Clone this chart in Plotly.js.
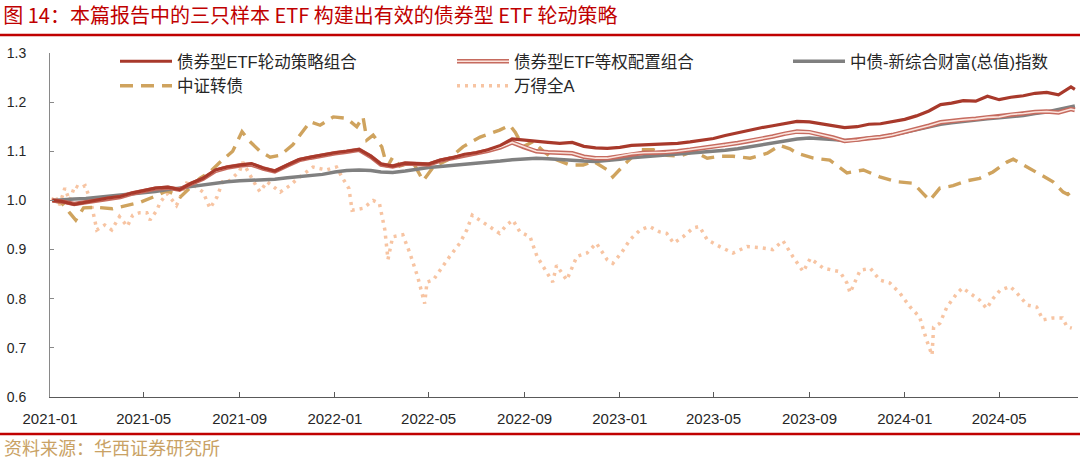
<!DOCTYPE html>
<html>
<head>
<meta charset="utf-8">
<script src="https://cdn.plot.ly/plotly-3.0.1.min.js"></script>
<style>
html,body{margin:0;padding:0;background:#fff;}
#chart{width:1080px;height:466px;}
</style>
</head>
<body>
<div id="chart"></div>
<script>
// ---------- data ----------
const seriesNames = ["债券型ETF轮动策略组合", "债券型ETF等权配置组合", "中债-新综合财富(总值)指数", "中证转债", "万得全A"];

const gridDates = [
  "2021-01-04","2021-01-16","2021-02-01","2021-02-16","2021-03-01","2021-03-16","2021-04-01","2021-04-16","2021-05-01","2021-05-16","2021-06-01","2021-06-16",
  "2021-07-01","2021-07-16","2021-08-01","2021-08-16","2021-09-01","2021-09-16","2021-10-01","2021-10-16","2021-11-01","2021-11-16","2021-12-01","2021-12-16",
  "2022-01-01","2022-01-16","2022-02-01","2022-02-16","2022-03-01","2022-03-16","2022-04-01","2022-04-16","2022-05-01","2022-05-16","2022-06-01","2022-06-16",
  "2022-07-01","2022-07-16","2022-08-01","2022-08-16","2022-09-01","2022-09-16","2022-10-01","2022-10-16","2022-11-01","2022-11-16","2022-12-01","2022-12-16",
  "2023-01-01","2023-01-16","2023-02-01","2023-02-16","2023-03-01","2023-03-16","2023-04-01","2023-04-16","2023-05-01","2023-05-16","2023-06-01","2023-06-16",
  "2023-07-01","2023-07-16","2023-08-01","2023-08-16","2023-09-01","2023-09-16","2023-10-01","2023-10-16","2023-11-01","2023-11-16","2023-12-01","2023-12-16",
  "2024-01-01","2024-01-16","2024-02-01","2024-02-16","2024-03-01","2024-03-16","2024-04-01","2024-04-16","2024-05-01","2024-05-16","2024-06-01","2024-06-16",
  "2024-07-01","2024-07-16","2024-08-01","2024-08-06"
];

const rotationVals = [
  1.000,0.998,0.992,0.997,1.000,1.005,1.008,1.015,1.020,1.025,1.027,1.022,
  1.035,1.045,1.062,1.068,1.072,1.075,1.066,1.060,1.072,1.083,1.088,1.093,
  1.097,1.100,1.104,1.090,1.074,1.070,1.076,1.075,1.074,1.082,1.087,1.094,
  1.097,1.103,1.112,1.125,1.122,1.120,1.118,1.116,1.118,1.110,1.107,1.106,
  1.108,1.112,1.113,1.114,1.114,1.116,1.119,1.122,1.126,1.132,1.138,1.143,
  1.148,1.152,1.157,1.161,1.160,1.156,1.153,1.148,1.150,1.155,1.156,1.160,
  1.165,1.172,1.182,1.195,1.198,1.203,1.202,1.212,1.205,1.210,1.213,1.218,
  1.220,1.215,1.231,1.226
];

const equalVals = [
  1.000,0.998,0.993,0.997,0.999,1.004,1.007,1.014,1.019,1.024,1.026,1.022,
  1.034,1.044,1.060,1.067,1.071,1.073,1.065,1.059,1.071,1.082,1.087,1.092,
  1.096,1.099,1.103,1.089,1.073,1.069,1.075,1.074,1.073,1.081,1.086,1.093,
  1.096,1.101,1.108,1.118,1.108,1.100,1.098,1.097,1.096,1.089,1.086,1.086,
  1.090,1.095,1.097,1.097,1.098,1.100,1.103,1.106,1.109,1.113,1.117,1.121,
  1.125,1.130,1.136,1.140,1.139,1.134,1.128,1.121,1.123,1.127,1.129,1.133,
  1.139,1.145,1.152,1.159,1.162,1.164,1.166,1.169,1.170,1.175,1.177,1.180,
  1.181,1.179,1.186,1.184
];

const bondIndexVals = [
  1.000,1.002,1.003,1.004,1.006,1.008,1.010,1.012,1.015,1.018,1.022,1.025,
  1.028,1.031,1.036,1.038,1.040,1.041,1.042,1.043,1.046,1.048,1.050,1.053,
  1.058,1.061,1.062,1.061,1.058,1.057,1.060,1.064,1.067,1.069,1.071,1.073,
  1.075,1.077,1.080,1.083,1.085,1.086,1.085,1.083,1.082,1.080,1.079,1.081,
  1.084,1.087,1.089,1.090,1.091,1.093,1.095,1.097,1.099,1.102,1.105,1.109,
  1.112,1.116,1.120,1.125,1.127,1.126,1.124,1.122,1.123,1.127,1.129,1.133,
  1.139,1.144,1.150,1.155,1.158,1.161,1.164,1.166,1.168,1.170,1.173,1.177,
  1.180,1.185,1.191,1.192
];

const cbDates = [
  "2021-01-04","2021-01-16","2021-01-26","2021-02-03","2021-02-13","2021-03-02","2021-03-22","2021-04-10","2021-04-26","2021-05-18",
  "2021-05-31","2021-06-17","2021-06-29","2021-07-12","2021-07-25","2021-08-07","2021-08-23","2021-09-04","2021-09-14","2021-09-27",
  "2021-10-10","2021-10-23","2021-11-08","2021-11-30","2021-12-13","2021-12-30","2022-01-16","2022-01-29","2022-02-06","2022-02-11",
  "2022-02-19","2022-03-02","2022-03-09","2022-03-16","2022-03-25","2022-04-11","2022-04-24","2022-05-07","2022-05-25","2022-06-14",
  "2022-07-06","2022-07-31","2022-08-13","2022-08-20","2022-08-30","2022-09-12","2022-09-25","2022-10-07","2022-10-29","2022-11-15",
  "2022-11-28","2022-12-16","2022-12-23","2023-01-10","2023-01-27","2023-02-13","2023-03-02","2023-03-19","2023-04-05","2023-04-23",
  "2023-05-09","2023-05-26","2023-06-17","2023-07-09","2023-07-25","2023-08-07","2023-08-16","2023-09-06","2023-09-27","2023-10-19",
  "2023-11-09","2023-11-30","2023-12-22","2024-01-12","2024-01-24","2024-02-02","2024-02-15","2024-03-03","2024-03-21","2024-04-06",
  "2024-04-23","2024-05-11","2024-05-19","2024-06-06","2024-06-22","2024-07-09","2024-07-22","2024-07-28","2024-08-06"
];
const cbVals = [
  1.000,0.995,0.975,0.960,0.985,0.986,0.983,0.990,0.996,1.010,
  1.020,1.007,1.025,1.045,1.058,1.078,1.100,1.140,1.120,1.100,
  1.088,1.092,1.113,1.160,1.153,1.170,1.167,1.150,1.170,1.123,
  1.133,1.109,1.068,1.088,1.070,1.078,1.040,1.068,1.082,1.109,
  1.129,1.143,1.153,1.139,1.109,1.120,1.100,1.086,1.072,1.072,
  1.080,1.062,1.048,1.078,1.103,1.103,1.092,1.090,1.100,1.086,
  1.090,1.090,1.086,1.096,1.112,1.105,1.096,1.086,1.082,1.056,
  1.062,1.048,1.038,1.035,1.015,1.000,1.025,1.030,1.040,1.045,
  1.058,1.078,1.084,1.068,1.052,1.038,1.017,1.012,1.025
];

const aDates = [
  "2021-01-04","2021-01-07","2021-01-13","2021-01-20","2021-01-26","2021-02-02","2021-02-08","2021-02-15","2021-02-22","2021-03-02",
  "2021-03-12","2021-03-21","2021-03-31","2021-04-10","2021-04-17","2021-04-26","2021-05-05","2021-05-09","2021-05-18","2021-05-22",
  "2021-05-31","2021-06-12","2021-06-25","2021-07-05","2021-07-16","2021-07-25","2021-08-03","2021-08-10","2021-08-19","2021-09-01",
  "2021-09-05","2021-09-14","2021-09-23","2021-09-27","2021-10-06","2021-10-23","2021-11-04","2021-11-17","2021-12-04","2021-12-21",
  "2022-01-03","2022-01-11","2022-01-19","2022-01-23","2022-02-06","2022-02-19","2022-02-27","2022-03-06","2022-03-10","2022-03-16",
  "2022-03-29","2022-04-07","2022-04-17","2022-04-26","2022-04-29","2022-05-07","2022-05-19","2022-05-28","2022-06-10","2022-06-19",
  "2022-06-26","2022-07-06","2022-07-18","2022-07-31","2022-08-09","2022-08-17","2022-08-26","2022-09-08","2022-09-17","2022-09-30",
  "2022-10-07","2022-10-12","2022-10-25","2022-11-07","2022-11-20","2022-12-02","2022-12-16","2022-12-23","2023-01-03","2023-01-14",
  "2023-01-27","2023-02-08","2023-02-21","2023-03-02","2023-03-11","2023-03-23","2023-04-05","2023-04-13","2023-04-23","2023-05-09",
  "2023-05-26","2023-06-13","2023-06-30","2023-07-16","2023-07-29","2023-08-11","2023-08-24","2023-09-02","2023-09-19","2023-10-10",
  "2023-10-19","2023-10-23","2023-11-05","2023-11-18","2023-11-30","2023-12-13","2023-12-26","2024-01-08","2024-01-20","2024-01-29",
  "2024-02-05","2024-02-07","2024-02-15","2024-02-24","2024-03-08","2024-03-15","2024-03-24","2024-04-06","2024-04-15","2024-04-23",
  "2024-05-02","2024-05-15","2024-05-24","2024-06-06","2024-06-18","2024-06-26","2024-07-09","2024-07-21","2024-07-27","2024-08-02"
];
const aVals = [
  1.000,1.010,0.990,1.025,1.000,1.030,1.025,1.030,1.000,0.940,
  0.950,0.940,0.967,0.947,0.970,0.975,0.975,0.960,0.980,0.996,
  1.014,0.990,1.035,1.030,1.017,0.984,1.007,1.038,1.040,1.060,
  1.078,1.051,1.027,1.018,1.038,1.017,1.030,1.048,1.068,1.062,
  1.068,1.045,1.024,0.980,0.984,1.000,0.994,0.940,0.880,0.926,
  0.930,0.893,0.845,0.790,0.834,0.838,0.866,0.886,0.913,0.940,
  0.970,0.960,0.947,0.933,0.950,0.960,0.936,0.926,0.886,0.852,
  0.834,0.868,0.838,0.886,0.893,0.913,0.879,0.872,0.893,0.920,
  0.940,0.947,0.936,0.933,0.913,0.926,0.944,0.947,0.920,0.906,
  0.893,0.906,0.904,0.900,0.918,0.885,0.855,0.882,0.862,0.855,
  0.832,0.812,0.858,0.862,0.838,0.832,0.811,0.783,0.763,0.716,
  0.685,0.742,0.750,0.783,0.811,0.822,0.811,0.797,0.780,0.800,
  0.817,0.825,0.811,0.787,0.783,0.757,0.761,0.761,0.743,0.740
];

const yTicks = [0.6, 0.7, 0.8, 0.9, 1.0, 1.1, 1.2, 1.3];
const titleText = "图 14：本篇报告中的三只样本 ETF 构建出有效的债券型 ETF 轮动策略";
const sourceText = "资料来源：华西证券研究所";

// ---------- geometry helpers (pixel -> paper) ----------
const W = 1080, H = 466, ML = 50, MR = 2, MT = 53, MB = 69;
const PW = W - ML - MR, PH = H - MT - MB;
const px = x => (x - ML) / PW;
const py = y => (H - MB - y) / PH;

const legFont = {family: "Liberation Sans, Noto Sans CJK SC, sans-serif", size: 16.5, color: "#262626"};
function legendBox(xpx, ypx) {
  return {x: px(xpx), y: py(ypx), xanchor: "left", yanchor: "top", orientation: "v",
          bgcolor: "rgba(0,0,0,0)", borderwidth: 0, font: legFont, itemwidth: 52,
          tracegroupgap: 0, itemclick: false, itemdoubleclick: false};
}

const traces = [
  {x: aDates, y: aVals, name: seriesNames[4], type: "scatter", mode: "lines",
   line: {color: "#f7c4a2", width: 3.5, dash: "3px,5px"}, legend: "legend2", legendrank: 2},
  {x: cbDates, y: cbVals, name: seriesNames[3], type: "scatter", mode: "lines",
   line: {color: "#cfa35e", width: 3.4, dash: "13px,8px"}, legend: "legend", legendrank: 2},
  {x: gridDates, y: bondIndexVals, name: seriesNames[2], type: "scatter", mode: "lines",
   line: {color: "#808080", width: 3.5}, legend: "legend3", legendrank: 1},
  {x: gridDates, y: equalVals, name: seriesNames[1], type: "scatter", mode: "lines",
   line: {color: "#c66b5f", width: 4.5}, legend: "legend2", legendrank: 1},
  {x: gridDates, y: equalVals, name: " ", type: "scatter", mode: "lines",
   line: {color: "#fbe3dc", width: 1.6}, legend: "legend4", hoverinfo: "skip"},
  {x: gridDates, y: rotationVals, name: seriesNames[0], type: "scatter", mode: "lines",
   line: {color: "#a8392b", width: 3.2}, legend: "legend", legendrank: 1}
];

const layout = {
  width: W, height: H,
  margin: {l: ML, r: MR, t: MT, b: MB, pad: 0},
  paper_bgcolor: "#ffffff", plot_bgcolor: "#ffffff",
  font: {family: "Liberation Sans, Noto Sans CJK SC, sans-serif", color: "#262626"},
  title: {text: titleText, xref: "container", yref: "container", x: 0.003, xanchor: "left",
          y: 1 - 16 / H, yanchor: "middle",
          font: {family: "Noto Sans CJK SC, sans-serif", size: 20, color: "#c00000"}},
  showlegend: true,
  legend: legendBox(115, 44),
  legend2: legendBox(452, 44),
  legend3: legendBox(788, 44),
  legend4: legendBox(452, 44),
  xaxis: {type: "date", range: ["2021-01-01", "2024-08-10"], tick0: "2021-01-01", dtick: "M4",
          tickformat: "%Y-%m", ticks: "inside", ticklen: 5, tickcolor: "#595959",
          showline: true, linecolor: "#595959", linewidth: 1, showgrid: false, zeroline: false,
          tickfont: {family: "Liberation Sans, Arial, sans-serif", size: 15, color: "#262626"},
          ticklabelstandoff: 8, fixedrange: true},
  yaxis: {range: [0.6, 1.3], tickvals: yTicks, tickformat: ".1f", ticks: "inside", ticklen: 4,
          tickcolor: "#898989", showline: true, linecolor: "#898989", linewidth: 1,
          showgrid: false, zeroline: false,
          tickfont: {family: "Liberation Sans, Arial, sans-serif", size: 14, color: "#262626"},
          ticklabelstandoff: 20, fixedrange: true},
  shapes: [
    {type: "line", xref: "paper", yref: "paper", x0: px(0), x1: px(W), y0: py(35), y1: py(35),
     line: {color: "#c00000", width: 2.5}},
    {type: "line", xref: "paper", yref: "paper", x0: px(0), x1: px(W), y0: py(434), y1: py(434),
     line: {color: "#c00000", width: 2.5}}
  ],
  annotations: [
    {text: sourceText, xref: "paper", yref: "paper", x: px(2), y: py(447), xanchor: "left", yanchor: "middle",
     showarrow: false, font: {family: "Noto Sans CJK SC, sans-serif", size: 18, color: "#c9a265"}}
  ]
};

Plotly.newPlot("chart", traces, layout, {staticPlot: true, displayModeBar: false});
</script>
</body>
</html>
